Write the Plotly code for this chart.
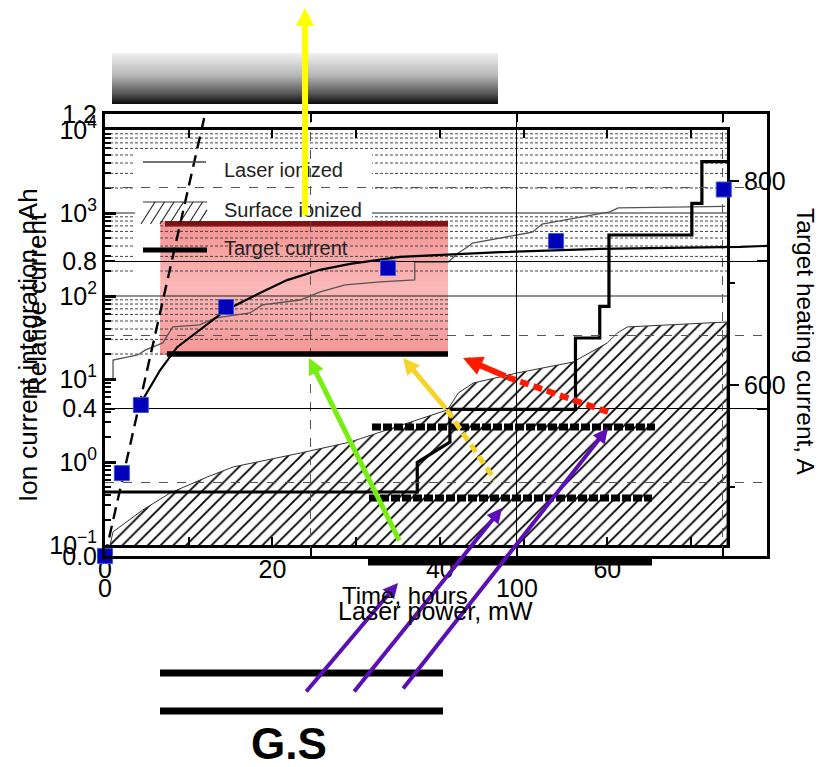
import plotly.graph_objects as go

# ---------------- integrated ion current vs time (log axis) ----------------
laser_time_h = [0.96, 0.96, 3.9, 4.8, 6.9, 8.1, 11.3, 13.1, 17.3, 18.8, 23.3, 25.7,
                28.7, 32.9, 37.0, 37.0, 41.0, 42.2, 43.3, 43.9, 50.5, 51.1, 52.2,
                56.4, 60.3, 61.3, 74.1]
laser_nAh = [9.7, 16.9, 19.5, 22.3, 27.2, 42.4, 44.8, 54.3, 62.4, 78, 89.5, 112,
             136, 148, 156, 257, 257, 330, 389, 435, 574, 590, 736,
             871, 1030, 1150, 1200]

surface_time_h = [0.6, 0.96, 4.5, 7.8, 12.2, 15.3, 23.3, 29.3, 40.9, 42.2, 44.0,
                  49.2, 55.9, 60.0, 61.2, 62.4, 74.3]
surface_nAh = [0.1, 0.144, 0.264, 0.424, 0.659, 0.871, 1.28, 1.74, 4.24, 6.78, 8.95,
               11.8, 16.0, 27.2, 35.8, 42.4, 48.6]

# target heating current (right axis)
target_time_h = [0, 37.3, 37.3, 41.2, 41.2, 56.2, 56.2, 59.1, 59.1, 60.2, 60.2,
                 70.1, 70.1, 71.3, 71.3, 74.3]
target_current_A = [495, 495, 524, 544, 576, 576, 646, 646, 677, 677, 747,
                    747, 778, 778, 819, 819]

# ---------------- relative current vs laser power ----------------
power_mW = [0.0, 4.1, 8.7, 29.4, 68.7, 109.5, 150.2]
relative_current = [0.0, 0.225, 0.41, 0.676, 0.782, 0.855, 0.995]

fit_power_mW = [8.0, 13.4, 17.5, 23.1, 29.4, 37.6, 44.2, 52.2, 59.5, 71.6, 95.9,
                120.1, 154.1, 160.7]
fit_relative = [0.402, 0.505, 0.567, 0.614, 0.668, 0.714, 0.749, 0.777, 0.793,
                0.812, 0.825, 0.834, 0.839, 0.842]

linear_power_mW = [0.0, 24.3]
linear_relative = [0.0, 1.2]

# axis extents and tick labels
time_range_h = [0, 74.3]
log_range = [-1, 4]
log_tick_vals = [0.1, 1, 10, 100, 1000, 10000]
log_tick_text = ['10<sup>\u22121</sup>', '10<sup>0</sup>', '10<sup>1</sup>',
                 '10<sup>2</sup>', '10<sup>3</sup>', '10<sup>4</sup>']
heating_range_A = [443, 850]
power_range_mW = [0, 160.7]
relative_range = [0, 1.2]

# ---------------- page geometry helpers ----------------
W, H = 819, 767
FONT = "Liberation Sans, Arial, Helvetica, sans-serif"


def fx(px):
    return px / W


def fy(py):
    return 1 - py / H


def hex_to_rgb(h):
    h = h.lstrip('#')
    return tuple(int(h[i:i + 2], 16) for i in (0, 2, 4))


def interp_color(stops, t):
    for (t0, c0), (t1, c1) in zip(stops[:-1], stops[1:]):
        if t0 <= t <= t1:
            f = (t - t0) / (t1 - t0) if t1 > t0 else 0
            a, b = hex_to_rgb(c0), hex_to_rgb(c1)
            r = [round(a[i] + (b[i] - a[i]) * f) for i in range(3)]
            return 'rgb(%d,%d,%d)' % tuple(r)
    return stops[-1][1]


shapes = []
annotations = []


def gradient_box(x0, x1, y0, y1, stops, step=1.0):
    n = max(1, int(round((y1 - y0) / step)))
    h = (y1 - y0) / n
    for i in range(n):
        c = interp_color(stops, (i + 0.5) / n)
        shapes.append(dict(type='rect', xref='paper', yref='paper',
                           x0=fx(x0), x1=fx(x1),
                           y0=fy(y0 + i * h), y1=fy(min(y1, y0 + (i + 1) * h + 0.6)),
                           line=dict(width=0), fillcolor=c, layer='below'))


def seg(p0, p1, color, width, dash=None, layer='above'):
    shapes.append(dict(type='line', xref='paper', yref='paper',
                       x0=fx(p0[0]), y0=fy(p0[1]), x1=fx(p1[0]), y1=fy(p1[1]),
                       line=dict(color=color, width=width, dash=dash), layer=layer))


def arrow(tail, head, color, width, size=0.6):
    annotations.append(dict(x=fx(head[0]), y=fy(head[1]), xref='paper', yref='paper',
                            ax=tail[0] - head[0], ay=tail[1] - head[1],
                            axref='pixel', ayref='pixel', text='', showarrow=True,
                            arrowhead=2, arrowsize=size, arrowwidth=width,
                            arrowcolor=color, standoff=0, startstandoff=0))


def label(text, x, y, size=24, angle=0, anchor='center', color='black'):
    annotations.append(dict(x=fx(x), y=fy(y), xref='paper', yref='paper', text=text,
                            showarrow=False, textangle=angle, xanchor=anchor,
                            yanchor='middle', font=dict(family=FONT, size=size, color=color)))


# ---------------- background decorations ----------------
gradient_box(112, 498, 53, 104, [(0, '#f0f0f0'), (0.45, '#b5b5b5'), (0.8, '#555555'), (1, '#0a0a0a')])
gradient_box(160, 448, 221, 355, [(0, '#f39292'), (0.5, '#fbb8b8'), (1, '#f59595')], step=2)
shapes.append(dict(type='rect', xref='paper', yref='paper', x0=fx(165), x1=fx(448),
                   y0=fy(226.5), y1=fy(221), line=dict(width=0), fillcolor='#8f0a0a',
                   layer='below'))

# minor grid of the log axis (upper decades)
grid_cut_h = 41.0
for d in (1, 2, 3):
    x_end = grid_cut_h if d == 1 else time_range_h[1]
    for k in range(2, 10):
        v = k * 10 ** d
        shapes.append(dict(type='line', xref='x', yref='y', x0=0, x1=x_end, y0=v, y1=v,
                           line=dict(color='#444444', width=1, dash='3px,2px'), layer='below'))
for v in (100, 1000):
    shapes.append(dict(type='line', xref='x', yref='y', x0=0, x1=time_range_h[1], y0=v, y1=v,
                       line=dict(color='#222222', width=1), layer='below'))

# legend background
shapes.append(dict(type='rect', xref='x', yref='y', x0=3.6, x1=31.9, y0=802, y1=5400,
                   line=dict(width=0), fillcolor='white', layer='below'))
shapes.append(dict(type='rect', xref='x', yref='y', x0=3.6, x1=6.6, y0=136, y1=802,
                   line=dict(width=0), fillcolor='white', layer='below'))

# ---------------- legend ----------------
seg((143, 162), (206, 162), '#444444', 1.3)
seg((143, 202), (207, 202), '#333333', 1)
for i in range(7):
    xb = 141 + i * 9.5
    xt = min(xb + 14, 207)
    yt = 224 - (xt - xb) * 22 / 14
    seg((xb, 224), (xt, yt), '#222222', 1.1)
seg((143, 250), (207, 250), 'black', 5)
label('Laser ionized', 222, 170, 20, anchor='left', color='#222')
label('Surface ionized', 222, 210, 20, anchor='left', color='#222')
label('Target current', 222, 248, 20, anchor='left', color='#222')

# ---------------- bars and arrows ----------------
seg((167, 354), (448, 354), 'black', 5.5)
seg((372, 427), (655, 427), 'black', 7, dash='9px,2px')
seg((369, 498), (652, 498), 'black', 7, dash='9px,2px')
seg((368, 562), (652, 562), 'black', 7)
seg((160, 673), (443, 673), 'black', 7)
seg((160, 711), (443, 711), 'black', 7)

seg((447, 410), (495, 480), '#f5d327', 5, dash='9px,5px')
seg((507, 377), (608, 412), '#ff1a00', 6, dash='9px,5px')

arrow((305, 217), (305, 8), '#ffff00', 6, 0.6)
arrow((400, 542), (309, 358), '#77ee11', 5, 0.65)
arrow((447, 410), (403, 358), '#f5d327', 5, 0.65)
arrow((507, 377), (463, 358), '#ff1a00', 6, 0.65)
arrow((305, 693), (398, 583), '#5a10b4', 4, 0.75)
arrow((353, 693), (502, 508), '#5a10b4', 4, 0.75)
arrow((402, 690), (608, 428), '#5a10b4', 4, 0.75)

# ---------------- titles ----------------
label('Ion current integration, nAh', 28, 345, 26, angle=-90)
label('Relative current', 37, 304, 26, angle=-90)
label('Target heating current, A', 806, 342, 24.5, angle=90)
label('Time, hours', 405, 595, 24)
label('Laser power, mW', 435, 611, 25)
label('<b>G.S</b>', 289, 743, 44)

# ---------------- traces ----------------
fig = go.Figure()

fig.add_trace(go.Scatter(
    x=surface_time_h + [surface_time_h[-1]], y=surface_nAh + [log_tick_vals[0]],
    xaxis='x', yaxis='y', mode='lines', fill='toself',
    fillpattern=dict(shape='/', fgcolor='black', bgcolor='white', size=9, solidity=0.2),
    line=dict(color='#333333', width=1), hoverinfo='skip'))
fig.add_trace(go.Scatter(x=laser_time_h, y=laser_nAh, xaxis='x', yaxis='y', mode='lines',
                         line=dict(color='#555555', width=1.3)))
fig.add_trace(go.Scatter(x=target_time_h, y=target_current_A, xaxis='x', yaxis='y3',
                         mode='lines', line=dict(color='black', width=3.2)))

fig.add_trace(go.Scatter(x=linear_power_mW, y=linear_relative, xaxis='x2', yaxis='y2',
                         mode='lines', line=dict(color='black', width=2.4, dash='12px,7px')))
fig.add_trace(go.Scatter(x=fit_power_mW, y=fit_relative, xaxis='x2', yaxis='y2',
                         mode='lines', line=dict(color='black', width=2.2)))
fig.add_trace(go.Scatter(x=power_mW, y=relative_current, xaxis='x2', yaxis='y2',
                         mode='markers', cliponaxis=False,
                         marker=dict(symbol='square', size=15, color='#0000bb',
                                     line=dict(color='#3a55e0', width=1))))

tickfont = dict(family=FONT, size=25, color='black')
common = dict(showline=True, linecolor='black', linewidth=3, ticks='inside',
              tickcolor='black', tickfont=tickfont, zeroline=False, automargin=False)

fig.update_layout(
    template='none',
    width=W, height=H, autosize=False, margin=dict(l=0, r=0, t=0, b=0, pad=0),
    paper_bgcolor='white', plot_bgcolor='rgba(0,0,0,0)', showlegend=False,
    font=dict(family=FONT, color='black'),
    xaxis=dict(domain=[fx(105), fx(727)], anchor='y', range=time_range_h,
               tickmode='linear', tick0=0, dtick=20, ticklen=8, tickwidth=2,
               mirror='ticks', showgrid=False,
               minor=dict(dtick=10, ticks='inside', ticklen=8, tickwidth=2,
                          tickcolor='black', showgrid=False), **common),
    yaxis=dict(type='log', domain=[fy(545), fy(130)], anchor='x', range=log_range,
               tickmode='array', tickvals=log_tick_vals, ticktext=log_tick_text,
               ticklen=11, tickwidth=3, mirror=True, showgrid=False,
               minor=dict(tickmode='linear', dtick='D1', ticks='inside', ticklen=6,
                          tickwidth=2, tickcolor='black', showgrid=False), **common),
    yaxis3=dict(overlaying='y', side='right', anchor='free', position=fx(727),
                range=heating_range_A, tickmode='linear', tick0=0, dtick=200,
                ticks='outside', ticklen=11, tickwidth=2, tickcolor='black',
                tickfont=tickfont, showline=False, showgrid=False, zeroline=False,
                automargin=False,
                minor=dict(dtick=100, ticks='outside', ticklen=7, tickwidth=2,
                           tickcolor='black', showgrid=False)),
    xaxis2=dict(domain=[fx(105), fx(767)], anchor='y2', range=power_range_mW,
                tickmode='linear', tick0=0, dtick=100, ticklen=8, tickwidth=2,
                mirror='ticks', showgrid=True, gridcolor='black', gridwidth=1,
                ticklabelstandoff=8,
                minor=dict(dtick=50, ticks='inside', ticklen=8, tickwidth=2,
                           tickcolor='black', showgrid=True, gridcolor='#555555',
                           griddash='dash', gridwidth=1), **common),
    yaxis2=dict(domain=[fy(556), fy(114)], anchor='x2', range=relative_range,
                tickmode='linear', tick0=0, dtick=0.4, tickformat='.1f', ticklen=10,
                tickwidth=2, mirror='ticks', showgrid=True, gridcolor='black',
                gridwidth=1,
                minor=dict(dtick=0.2, ticks='', showgrid=True, gridcolor='#555555',
                           griddash='dash', gridwidth=1), **common),
    shapes=shapes,
    annotations=annotations,
)

fig.write_html("out.html")
